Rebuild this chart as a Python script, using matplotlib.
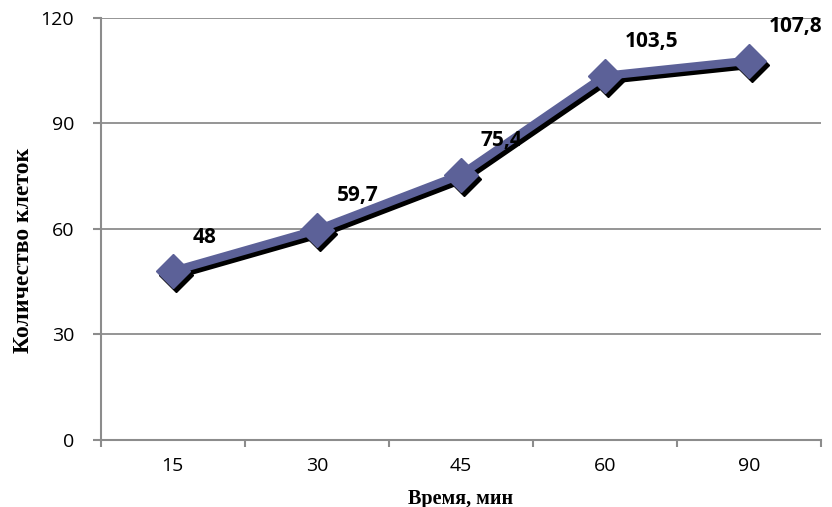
import matplotlib.pyplot as plt
import matplotlib.transforms as mtransforms
import numpy as np

# data
time_labels = ["15", "30", "45", "60", "90"]
cell_counts = [48, 59.7, 75.4, 103.5, 107.8]
value_labels = ["48", "59,7", "75,4", "103,5", "107,8"]
y_ticks = [0, 30, 60, 90, 120]

LINE_COLOR = "#5c6198"
GRID_COLOR = "#8c8c8c"


def main():
    fig = plt.figure(figsize=(8.32, 5.07), dpi=100)
    ax = fig.add_axes([0.121, 0.132, 0.866, 0.833])

    x = np.arange(len(time_labels))
    style = dict(linewidth=6, marker="D", markersize=17)

    # black drop shadow, shifted right/down by a few pixels
    shadow = ax.transData + mtransforms.ScaledTranslation(3 / 100, -4 / 100, fig.dpi_scale_trans)
    ax.plot(x, cell_counts, color="black", transform=shadow, zorder=2, **style)
    ax.plot(x, cell_counts, color=LINE_COLOR, zorder=3, **style)

    for xi, val, lab in zip(x, cell_counts, value_labels):
        ax.annotate(
            lab,
            (xi, val),
            xytext=(20, 34),
            textcoords="offset pixels",
            ha="left",
            va="center",
            fontsize=15,
            fontweight="bold",
            family="Open Sans",
            zorder=4,
        )

    ax.set_xlim(-0.5, len(time_labels) - 0.5)
    ax.set_ylim(0, 120)
    ax.set_yticks(y_ticks)
    ax.set_yticklabels([str(t) for t in y_ticks], family="Open Sans", fontsize=14)
    ax.set_xticks(x)
    ax.set_xticklabels(time_labels, family="Open Sans", fontsize=14)
    ax.set_xticks(np.arange(-0.5, len(time_labels)), minor=True)

    ax.tick_params(axis="x", which="major", length=0, pad=12)
    ax.tick_params(axis="x", which="minor", length=5, width=1.5, color=GRID_COLOR, direction="out")
    ax.tick_params(axis="y", length=6, width=1.5, color=GRID_COLOR, direction="out", pad=13)

    ax.grid(axis="y", color=GRID_COLOR, linewidth=1.3)
    ax.set_axisbelow(True)
    for side in ["top", "right"]:
        ax.spines[side].set_visible(False)
    for side in ["left", "bottom"]:
        ax.spines[side].set_color(GRID_COLOR)
        ax.spines[side].set_linewidth(1.5)

    ax.set_xlabel("Время, мин", family="Liberation Serif", fontweight="bold", fontsize=14.5, labelpad=10)
    ax.set_ylabel("Количество клеток", family="Liberation Serif", fontweight="bold", fontsize=17)
    ax.yaxis.set_label_coords(-0.093, 0.45)

    fig.savefig("out.png", dpi=100)
    plt.close(fig)


if __name__ == "__main__":
    main()
